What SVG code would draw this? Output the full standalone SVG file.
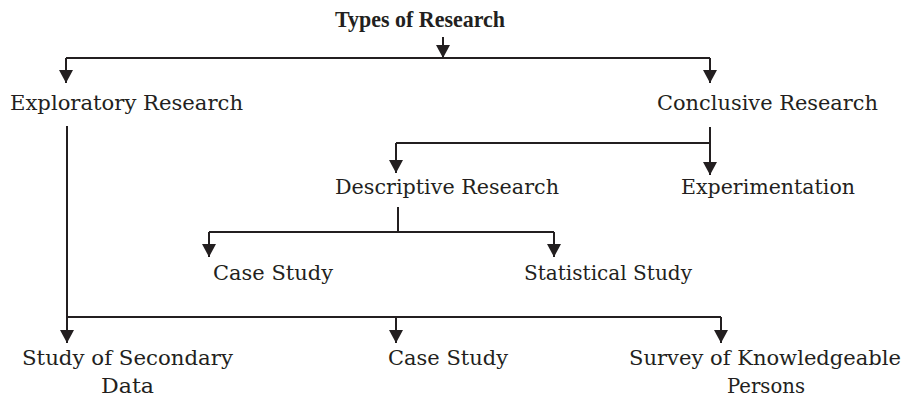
<svg xmlns="http://www.w3.org/2000/svg" width="909" height="400" viewBox="0 0 909 400">
  <style>
    .bg { fill: #ffffff; }
    .lbl { font-family: "DejaVu Serif", "Liberation Serif", serif; font-size: 21px; fill: #231f20; }
    .ttl { font-family: "Liberation Serif", "DejaVu Serif", serif; font-size: 23px; font-weight: bold; fill: #231f20; }
    .ln { fill: none; stroke: #231f20; stroke-width: 2; }
    .arr { fill: none; stroke: #231f20; stroke-width: 2; marker-end: url(#head); }
  </style>
  <defs>
    <!-- filled arrowhead, tip placed exactly on the path end -->
    <marker id="head" markerUnits="userSpaceOnUse" markerWidth="13" markerHeight="14" refX="13" refY="7" orient="auto" viewBox="0 0 13 14">
      <path d="M0,0 L13,7 L0,14 Z" fill="#231f20"/>
    </marker>
  </defs>
  <rect class="bg" x="0" y="0" width="909" height="400"/>

  <!-- connectors -->
  <g id="connectors">
    <!-- root split -->
    <path class="ln" d="M66,58 H710"/>
    <path class="arr" d="M443,37 V58"/>
    <path class="arr" d="M66,58 V83"/>
    <path class="arr" d="M710,58 V83"/>
    <!-- conclusive branch -->
    <path class="arr" d="M710,127 V175"/>
    <path class="ln" d="M396,143 H710"/>
    <path class="arr" d="M396,143 V173"/>
    <!-- descriptive branch -->
    <path class="ln" d="M398,207 V232"/>
    <path class="ln" d="M209,232 H554"/>
    <path class="arr" d="M209,232 V257"/>
    <path class="arr" d="M554,232 V257"/>
    <!-- exploratory branch -->
    <path class="ln" d="M67,126 V317 H721"/>
    <path class="arr" d="M67,317 V343"/>
    <path class="arr" d="M396,317 V343"/>
    <path class="arr" d="M721,317 V343"/>
  </g>

  <g id="types-of-research">
    <text class="ttl" x="335" y="27" textLength="170" lengthAdjust="spacingAndGlyphs">Types of Research</text>
  </g>
  <g id="exploratory-research">
    <text class="lbl" x="10" y="110" textLength="233" lengthAdjust="spacingAndGlyphs">Exploratory Research</text>
  </g>
  <g id="conclusive-research">
    <text class="lbl" x="657" y="110" textLength="221" lengthAdjust="spacingAndGlyphs">Conclusive Research</text>
  </g>
  <g id="descriptive-research">
    <text class="lbl" x="335" y="194" textLength="224" lengthAdjust="spacingAndGlyphs">Descriptive Research</text>
  </g>
  <g id="experimentation">
    <text class="lbl" x="681" y="194" textLength="174" lengthAdjust="spacingAndGlyphs">Experimentation</text>
  </g>
  <g id="case-study-descriptive">
    <text class="lbl" x="213" y="280" textLength="120" lengthAdjust="spacingAndGlyphs">Case Study</text>
  </g>
  <g id="statistical-study">
    <text class="lbl" x="524" y="280" textLength="168" lengthAdjust="spacingAndGlyphs">Statistical Study</text>
  </g>
  <g id="study-of-secondary-data">
    <text class="lbl" x="22" y="365" textLength="211" lengthAdjust="spacingAndGlyphs">Study of Secondary</text>
    <text class="lbl" x="101" y="393" textLength="53" lengthAdjust="spacingAndGlyphs">Data</text>
  </g>
  <g id="case-study-exploratory">
    <text class="lbl" x="388" y="365" textLength="120" lengthAdjust="spacingAndGlyphs">Case Study</text>
  </g>
  <g id="survey-of-knowledgeable-persons">
    <text class="lbl" x="629" y="365" textLength="272" lengthAdjust="spacingAndGlyphs">Survey of Knowledgeable</text>
    <text class="lbl" x="727" y="393" textLength="78" lengthAdjust="spacingAndGlyphs">Persons</text>
  </g>
</svg>
